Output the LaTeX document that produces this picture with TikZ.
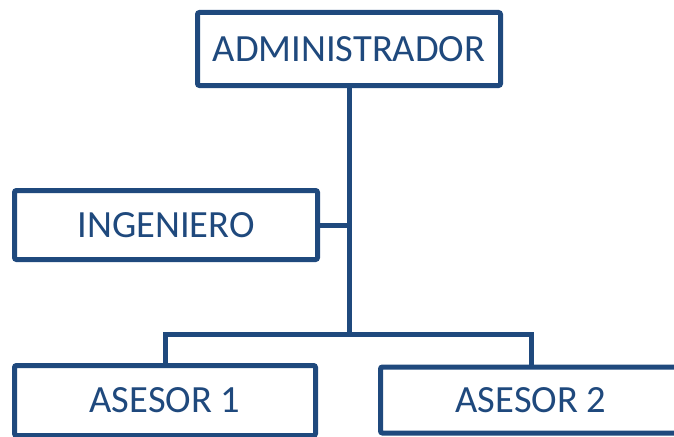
\documentclass[tikz,border=0pt]{standalone}
\usepackage{fontspec}
\setmainfont{Carlito}
\definecolor{orgblue}{HTML}{1F497D}
\begin{document}
\begin{tikzpicture}[x=1pt,y=-1pt,
  role/.style={draw=orgblue, line width=5pt, rounded corners=2pt, fill=white,
    text=orgblue, font=\fontsize{38.5}{46}\selectfont,
    inner sep=0pt, outer sep=0pt},
  link/.style={draw=orgblue, line width=5pt}]
\useasboundingbox (0,0) rectangle (674,436);
\clip (0,0) rectangle (674,436);

% connectors
\coordinate (bus) at (349,334);
\node[role, minimum width=303pt, minimum height=73pt] (admin) at (349,49) {ADMINISTRADOR};
\node[role, minimum width=303pt, minimum height=69pt] (ing) at (166,225) {INGENIERO};
\node[role, minimum width=301pt, minimum height=70pt] (as1) at (165,400.5) {ASESOR 1};
\node[role, minimum width=301pt, minimum height=66pt] (as2) at (531,400) {ASESOR 2};

\draw[link] (admin.south) -- (bus);
\draw[link] (ing.east) -- (ing.east -| admin.south);
\draw[link] (as1.north) |- (bus) -| (as2.north);
\end{tikzpicture}
\end{document}
